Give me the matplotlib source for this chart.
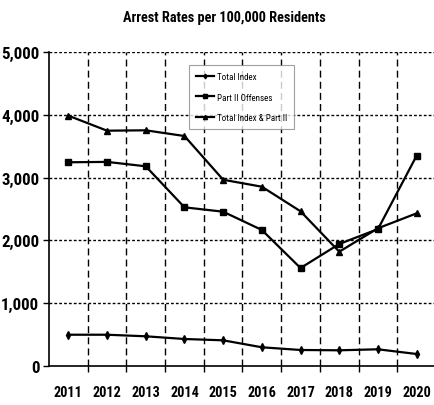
import matplotlib
matplotlib.use("Agg")
import matplotlib.pyplot as plt
from matplotlib import font_manager

years = ["2011", "2012", "2013", "2014", "2015", "2016", "2017", "2018", "2019", "2020"]
total_index = [498, 498, 473, 430, 409, 298, 255, 250, 266, 191]
part2 = [3244, 3250, 3180, 2527, 2457, 2166, 1560, 1943, 2180, 3350]
total_plus_part2 = [3986, 3747, 3753, 3662, 2966, 2855, 2463, 1820, 2193, 2431]
yticks = [0, 1000, 2000, 3000, 4000, 5000]
ytick_labels = ["0", "1,000", "2,000", "3,000", "4,000", "5,000"]
title = "Arrest Rates per 100,000 Residents"

names = {f.name for f in font_manager.fontManager.ttflist}
fam = "Liberation Sans"
for cand in ["Liberation Sans Narrow", "Roboto Condensed", "Open Sans Condensed",
             "DejaVu Sans Condensed", "Liberation Sans"]:
    if cand in names:
        fam = cand
        break

fig = plt.figure(figsize=(4.35, 4.06), dpi=100)
ax = fig.add_axes([49/435, 39/406, 387/435, 314/406])
x = list(range(len(years)))

ax.plot(x, total_index, color="black", lw=1.6, marker="d", ms=4, label="Total Index")
ax.plot(x, part2, color="black", lw=1.6, marker="s", ms=5, label="Part II Offenses")
ax.plot(x, total_plus_part2, color="black", lw=1.6, marker="^", ms=5, label="Total Index & Part II")

ax.set_xlim(-0.5, 9.5)
ax.set_ylim(0, 5000)
ax.set_yticks(yticks)
ax.set_xticks(x)
ax.set_xticks([i + 0.5 for i in range(9)], minor=True)
ax.tick_params(axis="x", which="major", length=0, pad=14)
ax.tick_params(axis="x", which="minor", length=4, width=1, direction="out")
ax.tick_params(axis="y", length=4, width=1, pad=3)

# fit font sizes to measured widths in the reference
renderer = fig.canvas.get_renderer()
def fit_size(text, target_w, base=10, weight="bold"):
    t = fig.text(0, 0, text, fontfamily=fam, fontweight=weight, fontsize=base)
    w = t.get_window_extent(renderer).width
    t.remove()
    return base * target_w / w

tick_fs = min(fit_size("5,000", 38), 14)
year_fs = min(fit_size("2011", 29), 14)
title_fs = fit_size(title, 203)

ax.set_yticklabels(ytick_labels, fontfamily=fam, fontweight="bold", fontsize=tick_fs)
ax.set_xticklabels(years, fontfamily=fam, fontweight="bold", fontsize=year_fs)

for y in yticks[1:]:
    ax.axhline(y, color="black", lw=1, ls=(0, (2, 1.5)), zorder=0)
for xv in [i + 0.5 for i in range(9)]:
    ax.axvline(xv, color="black", lw=1, ls=(0, (5, 3)), zorder=0)

ax.spines["top"].set_visible(False)
ax.spines["right"].set_visible(False)
ax.spines["left"].set_linewidth(1.2)
ax.spines["bottom"].set_linewidth(1.2)

leg = ax.legend(loc="upper left", bbox_to_anchor=((189-49)/387, (406-66-39)/314),
                borderaxespad=0, frameon=True,
                fancybox=False, edgecolor="#888888", prop={"family": fam, "size": 6.5},
                handlelength=2.0, handletextpad=0.3, labelspacing=1.25, borderpad=0.8,
                markerscale=0.6)
leg.get_frame().set_linewidth(0.8)
leg.set_zorder(5)

fig.text(224/435, 1 - 18/406, title, ha="center", va="center",
         fontfamily=fam, fontweight="bold", fontsize=title_fs)

fig.savefig("out.png", dpi=100)
